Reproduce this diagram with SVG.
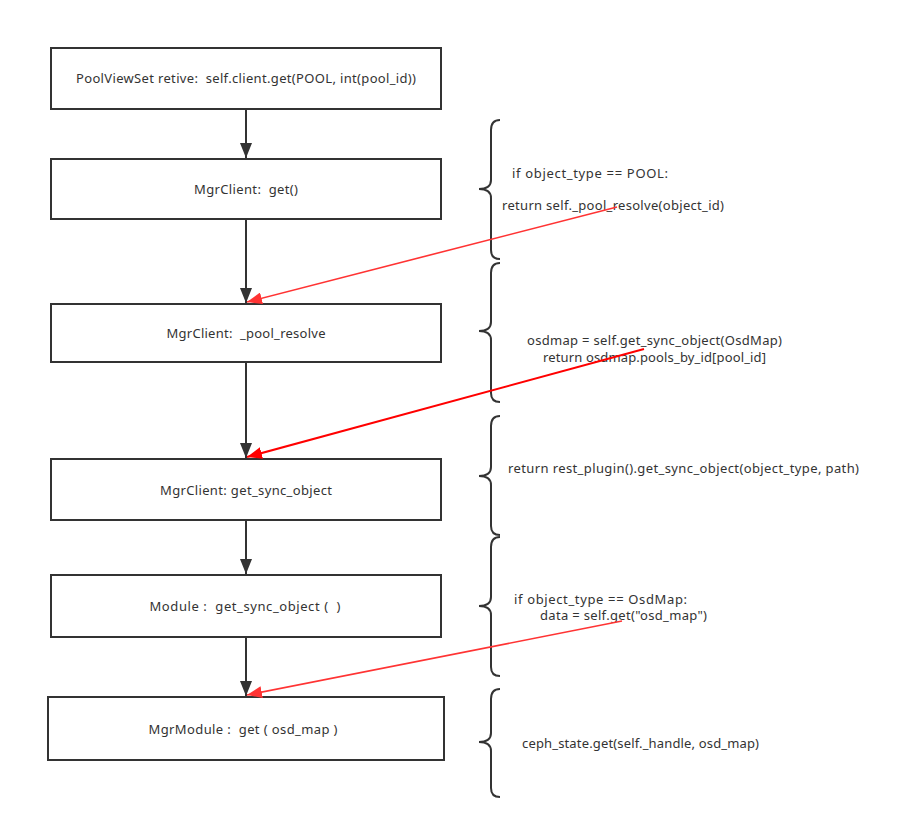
<svg xmlns="http://www.w3.org/2000/svg" width="911" height="830" viewBox="0 0 911 830">
<style>
.box{fill:#fff;stroke:#333;stroke-width:2}
.t{font-family:"Noto Sans","Open Sans",sans-serif;font-size:13px;fill:#333;white-space:pre}
.c{text-anchor:middle}
.brace{fill:none;stroke:#333;stroke-width:2}
.flow{stroke:#333;stroke-width:2;fill:none}
.red1{stroke:#ff3333;stroke-width:1.6;fill:none}
.red2{stroke:#ff0000;stroke-width:2;fill:none}
</style>
<defs>
<marker id="ah" markerUnits="userSpaceOnUse" markerWidth="16" markerHeight="12" refX="15" refY="6" orient="auto"><path d="M0,0 L15,6 L0,12 Z" fill="#333"/></marker>
<marker id="ahr1" markerUnits="userSpaceOnUse" markerWidth="16" markerHeight="12" refX="15" refY="6" orient="auto"><path d="M0,0 L15,6 L0,12 Z" fill="#ff3333"/></marker>
<marker id="ahr2" markerUnits="userSpaceOnUse" markerWidth="16" markerHeight="12" refX="15" refY="6" orient="auto"><path d="M0,0 L15,6 L0,12 Z" fill="#ff0000"/></marker>
</defs>
<rect width="911" height="830" fill="#fff"/>

<g id="n1"><rect class="box" x="51" y="48" width="390" height="61"/><text class="t c" x="246" y="83" textLength="340" lengthAdjust="spacing">PoolViewSet retive:  self.client.get(POOL, int(pool_id))</text></g>
<g id="n2"><rect class="box" x="51" y="159" width="390" height="60"/><text class="t c" x="246" y="194" textLength="104" lengthAdjust="spacing">MgrClient:  get()</text></g>
<g id="n3"><rect class="box" x="51" y="304" width="390" height="58"/><text class="t c" x="246" y="338" textLength="159" lengthAdjust="spacing">MgrClient:  _pool_resolve</text></g>
<g id="n4"><rect class="box" x="51" y="459" width="390" height="61"/><text class="t c" x="246" y="495" textLength="172" lengthAdjust="spacing">MgrClient: get_sync_object</text></g>
<g id="n5"><rect class="box" x="51" y="575" width="390" height="62"/><text class="t c" x="245" y="611" textLength="191" lengthAdjust="spacing">Module :  get_sync_object (  )</text></g>
<g id="n6"><rect class="box" x="48" y="697" width="396" height="63"/><text class="t c" x="243" y="734" textLength="189" lengthAdjust="spacing">MgrModule :  get ( osd_map )</text></g>

<g id="b1"><path class="brace" d="M500,120 Q491,120 491,130 L491,180 Q491,189 479,189 Q491,189 491,198 L491,250 Q491,259 500,259"/>
<text class="t" x="512" y="178" textLength="156" lengthAdjust="spacing">if object_type == POOL:</text><text class="t" x="502" y="210" textLength="222" lengthAdjust="spacing">return self._pool_resolve(object_id)</text></g>
<g id="b2"><path class="brace" d="M500,263 Q491,263 491,273 L491,322 Q491,331 479,331 Q491,331 491,340 L491,393 Q491,402 500,402"/>
<text class="t" x="527" y="345" textLength="255" lengthAdjust="spacing">osdmap = self.get_sync_object(OsdMap)</text><text class="t" x="543" y="362" textLength="223" lengthAdjust="spacing">return osdmap.pools_by_id[pool_id]</text></g>
<g id="b3"><path class="brace" d="M500,416 Q491,416 491,426 L491,467 Q491,476 479,476 Q491,476 491,485 L491,526 Q491,535 500,535"/>
<text class="t" x="508" y="473" textLength="351" lengthAdjust="spacing">return rest_plugin().get_sync_object(object_type, path)</text></g>
<g id="b4"><path class="brace" d="M500,537 Q491,537 491,547 L491,597 Q491,606 479,606 Q491,606 491,615 L491,667 Q491,676 500,676"/>
<text class="t" x="514" y="604" textLength="173" lengthAdjust="spacing">if object_type == OsdMap:</text><text class="t" x="540" y="620" textLength="167" lengthAdjust="spacing">data = self.get("osd_map")</text></g>
<g id="b5"><path class="brace" d="M500,689 Q491,689 491,699 L491,733 Q491,742 479,742 Q491,742 491,751 L491,788 Q491,797 500,797"/>
<text class="t" x="522" y="748" textLength="237" lengthAdjust="spacing">ceph_state.get(self._handle, osd_map)</text></g>

<g id="connectors">
<line class="flow" x1="246" y1="110" x2="246" y2="158" marker-end="url(#ah)"/>
<line class="flow" x1="246" y1="220" x2="246" y2="303" marker-end="url(#ah)"/>
<line class="flow" x1="246" y1="363" x2="246" y2="458" marker-end="url(#ah)"/>
<line class="flow" x1="246" y1="521" x2="246" y2="574" marker-end="url(#ah)"/>
<line class="flow" x1="246" y1="638" x2="246" y2="696" marker-end="url(#ah)"/>
<line class="red1" x1="617" y1="207" x2="247" y2="302" marker-end="url(#ahr1)"/>
<line class="red2" x1="644" y1="349" x2="247" y2="457" marker-end="url(#ahr2)"/>
<line class="red1" x1="622" y1="621" x2="247" y2="695" marker-end="url(#ahr1)"/>
</g>
</svg>
